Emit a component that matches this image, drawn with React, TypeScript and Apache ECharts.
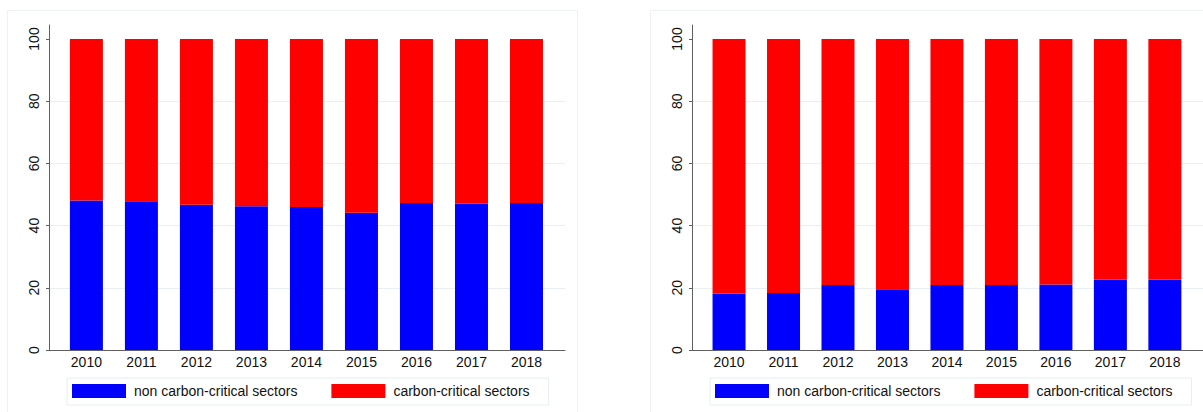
import React, { useEffect, useRef } from "react";
import * as echarts from "echarts";

const years = [2010, 2011, 2012, 2013, 2014, 2015, 2016, 2017, 2018];
const yTicks = [0, 20, 40, 60, 80, 100];
const seriesNames = ["non carbon-critical sectors", "carbon-critical sectors"];
const leftNonCritical = [48.1, 47.8, 46.7, 46.2, 46.0, 44.1, 47.3, 47.0, 47.3];
const leftCritical = [51.9, 52.2, 53.3, 53.8, 54.0, 55.9, 52.7, 53.0, 52.7];
const rightNonCritical = [18.2, 18.3, 20.9, 19.5, 20.9, 20.9, 21.1, 22.6, 22.6];
const rightCritical = [81.8, 81.7, 79.1, 80.5, 79.1, 79.1, 78.9, 77.4, 77.4];

const FONT = "'Liberation Sans', Arial, Helvetica, sans-serif";
const BLUE = "#0000ff";
const RED = "#ff0000";
const GRID_LINE = "#eaf0f2";
const AXIS = "#5f5f5f";

// value first so that the stack is applied to the value dimension
function pairs(vals: number[]) {
  return years.map((y, i) => [vals[i], y]);
}

function xAxisFor(gridIndex: number) {
  return {
    type: "value",
    gridIndex,
    min: 2009.32,
    max: 2018.7,
    axisLine: { show: true, onZero: false, lineStyle: { color: AXIS, width: 1 } },
    axisTick: { show: false },
    splitLine: { show: false },
    axisLabel: {
      customValues: years,
      formatter: (v: number) => String(v),
      color: "#111",
      fontSize: 14,
      fontFamily: FONT,
      margin: 5,
    },
  };
}

function yAxisFor(gridIndex: number) {
  return {
    type: "value",
    gridIndex,
    min: 0,
    max: 104.5,
    interval: 20,
    axisLine: { show: true, lineStyle: { color: AXIS, width: 1 } },
    axisTick: { show: true, customValues: yTicks, length: 3, lineStyle: { color: AXIS } },
    splitLine: { show: true, showMaxLine: false, showMinLine: false, lineStyle: { color: GRID_LINE, width: 1 } },
    axisLabel: {
      customValues: yTicks,
      rotate: 90,
      color: "#111",
      fontSize: 14,
      fontFamily: FONT,
      margin: 8,
    },
  };
}

function legendFor(left: number) {
  return {
    data: seriesNames,
    left,
    top: 378,
    orient: "horizontal",
    icon: "rect",
    itemWidth: 54,
    itemHeight: 14,
    itemGap: 34,
    padding: [6, 19, 7, 5],
    borderColor: "#e8eef0",
    borderWidth: 1,
    textStyle: { color: "#111", fontSize: 14, fontFamily: FONT, padding: [0, 0, 0, 3] },
    selectedMode: false,
  };
}

function barSeries(name: string, stack: string, axis: number, color: string, vals: number[]) {
  return {
    name,
    type: "bar",
    stack,
    xAxisIndex: axis,
    yAxisIndex: axis,
    barWidth: 33,
    encode: { x: 1, y: 0 },
    itemStyle: { color },
    data: pairs(vals),
  };
}

export default function App() {
  const ref = useRef<HTMLDivElement>(null);
  useEffect(() => {
    if (!ref.current) return;
    const chart = echarts.init(ref.current, null, { renderer: "svg" });
    const option = {
      animation: false,
      backgroundColor: "#ffffff",
      textStyle: { fontFamily: FONT },
      graphic: [
        {
          type: "rect",
          shape: { x: 7.5, y: 10.5, width: 570, height: 405 },
          style: { fill: "none", stroke: "#eef2f4", lineWidth: 1 },
          silent: true,
        },
        {
          type: "rect",
          shape: { x: 650.5, y: 10.5, width: 570, height: 405 },
          style: { fill: "none", stroke: "#eef2f4", lineWidth: 1 },
          silent: true,
        },
      ],
      grid: [
        { left: 49, top: 25, width: 516, height: 325 },
        { left: 692, top: 25, width: 516, height: 325 },
      ],
      xAxis: [xAxisFor(0), xAxisFor(1)],
      yAxis: [yAxisFor(0), yAxisFor(1)],
      legend: [legendFor(67), legendFor(710)],
      series: [
        barSeries(seriesNames[0], "left", 0, BLUE, leftNonCritical),
        barSeries(seriesNames[1], "left", 0, RED, leftCritical),
        barSeries(seriesNames[0], "right", 1, BLUE, rightNonCritical),
        barSeries(seriesNames[1], "right", 1, RED, rightCritical),
      ],
    };
    chart.setOption(option as any);
    return () => chart.dispose();
  }, []);
  return (
    <div
      ref={ref}
      style={{ position: "fixed", left: 0, top: 0, width: 1203, height: 412, background: "#fff" }}
    />
  );
}
